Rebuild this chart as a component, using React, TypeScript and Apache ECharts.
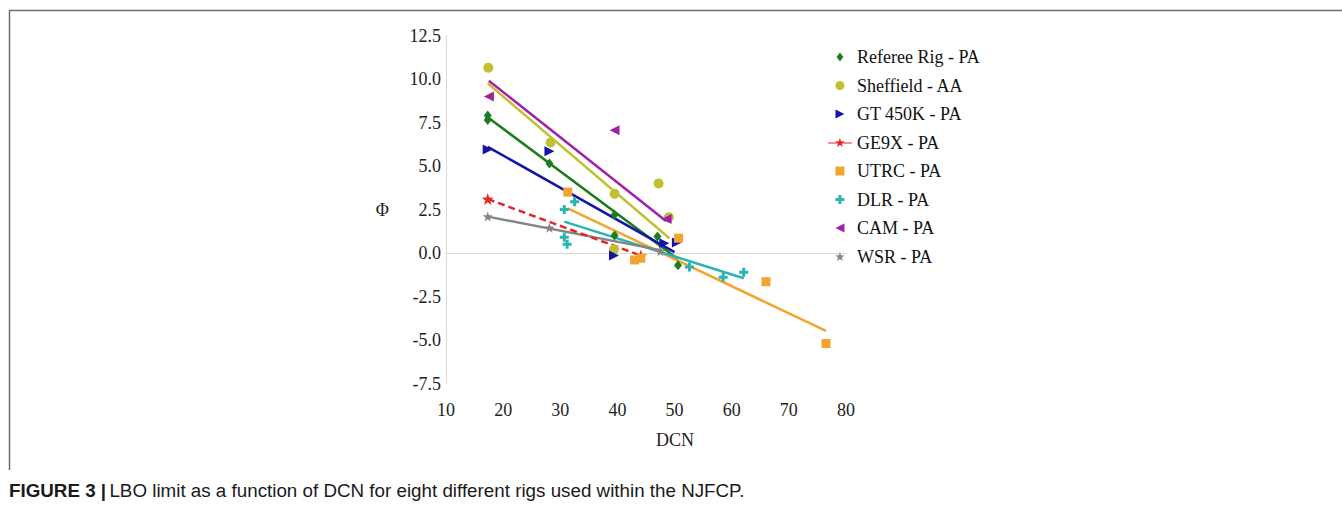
import React, { useEffect, useRef } from "react";
import * as echarts from "echarts";

// ---- data (DCN, Φ) ----
const seriesNames = [
  "Referee Rig - PA",
  "Sheffield - AA",
  "GT 450K - PA",
  "GE9X - PA",
  "UTRC - PA",
  "DLR - PA",
  "CAM - PA",
  "WSR - PA",
];
const refereeRig = [[17.3, 7.9], [17.3, 7.65], [28.1, 5.15], [39.5, 2.2], [39.5, 1.0], [47.0, 0.95], [50.6, -0.7]];
const sheffield = [[17.4, 10.65], [28.3, 6.35], [39.5, 3.4], [39.4, 0.2], [47.2, 4.0], [49.0, 2.05]];
const gt450k = [[17.3, 5.95], [28.1, 5.85], [39.4, -0.15], [48.2, 0.56], [50.4, 0.6]];
const ge9x = [[17.3, 3.1], [44.1, -0.15]];
const utrc = [[31.3, 3.5], [43.0, -0.4], [44.1, -0.3], [50.7, 0.85], [66.0, -1.65], [76.5, -5.2]];
const dlr = [[30.7, 2.5], [32.5, 2.95], [30.7, 0.9], [31.2, 0.5], [52.6, -0.8], [58.5, -1.4], [62.1, -1.1]];
const cam = [[17.5, 9.0], [39.5, 7.05], [48.6, 1.95]];
const wsr = [[17.3, 2.1], [28.1, 1.45], [47.5, 0.1]];

// linear trend lines (end points)
const refereeTrend = [[17.3, 7.8], [50.6, -0.35]];
const sheffieldTrend = [[17.3, 9.75], [49.1, 0.85]];
const gtTrend = [[17.3, 6.1], [50.0, 0.05]];
const utrcTrend = [[31.3, 2.57], [76.5, -4.48]];
const dlrTrend = [[30.7, 1.8], [62.1, -1.45]];
const camTrend = [[17.5, 9.9], [48.5, 1.84]];
const wsrTrend = [[17.3, 2.09], [47.8, 0.15]];

const xTicks = { min: 10, max: 80, interval: 10 };
const yTicks = { min: -7.5, max: 12.5, interval: 2.5 };

const colors = {
  referee: "#1e7b1e",
  sheffield: "#c2c030",
  gt: "#1414a8",
  ge9x: "#e02a2a",
  utrc: "#f2a52e",
  dlr: "#2ab4b4",
  cam: "#a020a8",
  wsr: "#858585",
};

const STAR =
  "path://M0,-10 L2.35,-3.24 L9.51,-3.09 L3.8,1.24 L5.88,8.09 L0,4 L-5.88,8.09 L-3.8,1.24 L-9.51,-3.09 L-2.35,-3.24 Z";
const CROSS =
  "path://M-3,-9 L3,-9 L3,-3 L9,-3 L9,3 L3,3 L3,9 L-3,9 L-3,3 L-9,3 L-9,-3 L-3,-3 Z";
const TRI_RIGHT = "path://M0,0 L10,5 L0,10 Z";
const TRI_LEFT = "path://M10,0 L0,5 L10,10 Z";
const DIAMOND = "path://M3.8,0 L7.6,5 L3.8,10 L0,5 Z";
const SQUARE = "path://M0,0 L10,0 L10,10 L0,10 Z";
const LINE_STAR =
  "path://M0,4.4 L24,4.4 L24,5.6 L0,5.6 Z M12,0 L13.18,3.38 L16.76,3.45 L13.9,5.62 L14.94,9.05 L12,7 L9.06,9.05 L10.1,5.62 L7.24,3.45 L10.82,3.38 Z";

const legendIcons = [DIAMOND, "circle", TRI_RIGHT, LINE_STAR, SQUARE, CROSS, TRI_LEFT, STAR];

const serif = "'Liberation Serif', 'Times New Roman', serif";
const sans = "'Liberation Sans', Arial, sans-serif";

function trend(name: string, data: number[][], color: string) {
  return {
    name,
    type: "line",
    data,
    symbol: "none",
    silent: true,
    lineStyle: { color, width: 2.5 },
    z: 1,
  };
}

function scatter(name: string, data: number[][], color: string, symbol: string, size: number | number[], rotate = 0) {
  return {
    name,
    type: "scatter",
    data,
    symbol,
    symbolSize: size,
    symbolRotate: rotate,
    itemStyle: { color, opacity: 1 },
    z: 3,
  };
}

export default function App() {
  const ref = useRef<HTMLDivElement>(null);
  useEffect(() => {
    if (!ref.current) return;
    const chart = echarts.init(ref.current, undefined, { renderer: "svg" });
    chart.setOption({
      animation: false,
      backgroundColor: "#ffffff",
      grid: { left: 446, right: 496, top: 35.5, bottom: 122.5, containLabel: false },
      xAxis: {
        type: "value",
        min: xTicks.min,
        max: xTicks.max,
        interval: xTicks.interval,
        axisLine: { show: true, lineStyle: { color: "#d9d9d9", width: 1 } },
        axisTick: { show: false },
        splitLine: { show: false },
        axisLabel: { fontFamily: serif, fontSize: 18, color: "#222", margin: 17 },
      },
      yAxis: {
        type: "value",
        min: yTicks.min,
        max: yTicks.max,
        interval: yTicks.interval,
        axisLine: { show: true, lineStyle: { color: "#d9d9d9", width: 1 } },
        axisTick: { show: false },
        splitLine: { show: false },
        axisLabel: {
          fontFamily: serif,
          fontSize: 18,
          color: "#222",
          margin: 5,
          formatter: (v: number) => v.toFixed(1),
        },
        name: "Φ",
        nameLocation: "middle",
        nameRotate: 0,
        nameGap: 57,
        nameTextStyle: { fontFamily: serif, fontSize: 18, color: "#222" },
      },
      legend: {
        orient: "vertical",
        left: 823,
        top: 43,
        itemWidth: 24,
        itemHeight: 9,
        itemGap: 10.5,
        symbolKeepAspect: true,
        data: seriesNames.map((n, i) => ({ name: n, icon: legendIcons[i] })),
        textStyle: { fontFamily: serif, fontSize: 18, color: "#111" },
      },
      series: [
        trend("t-referee", refereeTrend, colors.referee),
        trend("t-sheffield", sheffieldTrend, colors.sheffield),
        trend("t-gt", gtTrend, colors.gt),
        trend("t-utrc", utrcTrend, colors.utrc),
        trend("t-dlr", dlrTrend, colors.dlr),
        trend("t-cam", camTrend, colors.cam),
        trend("t-wsr", wsrTrend, colors.wsr),
        scatter(seriesNames[0], refereeRig, colors.referee, "diamond", [8, 10]),
        scatter(seriesNames[1], sheffield, colors.sheffield, "circle", 10),
        scatter(seriesNames[2], gt450k, colors.gt, "triangle", 10, -90),
        {
          name: seriesNames[3],
          type: "line",
          data: ge9x,
          symbol: STAR,
          symbolSize: 12,
          itemStyle: { color: colors.ge9x },
          lineStyle: { color: colors.ge9x, width: 2.5, type: [7, 4] },
          z: 3,
        },
        scatter(seriesNames[4], utrc, colors.utrc, "rect", 9),
        scatter(seriesNames[5], dlr, colors.dlr, CROSS, 9),
        scatter(seriesNames[6], cam, colors.cam, "triangle", 10, 90),
        scatter(seriesNames[7], wsr, colors.wsr, STAR, 10),
      ],
      graphic: [
        {
          type: "line",
          shape: { x1: 9, y1: 10.5, x2: 1342, y2: 10.5 },
          style: { stroke: "#6e6e6e", lineWidth: 1.5 },
        },
        {
          type: "line",
          shape: { x1: 9.5, y1: 10, x2: 9.5, y2: 470 },
          style: { stroke: "#6e6e6e", lineWidth: 1.5 },
        },
        {
          type: "text",
          x: 675,
          y: 440,
          style: { text: "DCN", font: `18px ${serif}`, fill: "#222", align: "center", verticalAlign: "middle" },
        },
        {
          type: "text",
          x: 9,
          y: 490,
          style: {
            text: "{b|FIGURE 3 |} {n|LBO limit as a function of DCN for eight different rigs used within the NJFCP.}",
            verticalAlign: "middle",
            rich: {
              b: { fontFamily: sans, fontSize: 18.8, fontWeight: "bold", fill: "#1a1a1a" },
              n: { fontFamily: sans, fontSize: 18.8, fill: "#1a1a1a" },
            },
          },
        },
      ],
    });
    return () => chart.dispose();
  }, []);
  return (
    <div
      ref={ref}
      style={{ position: "absolute", left: 0, top: 0, width: 1342, height: 506, background: "#fff" }}
    />
  );
}
